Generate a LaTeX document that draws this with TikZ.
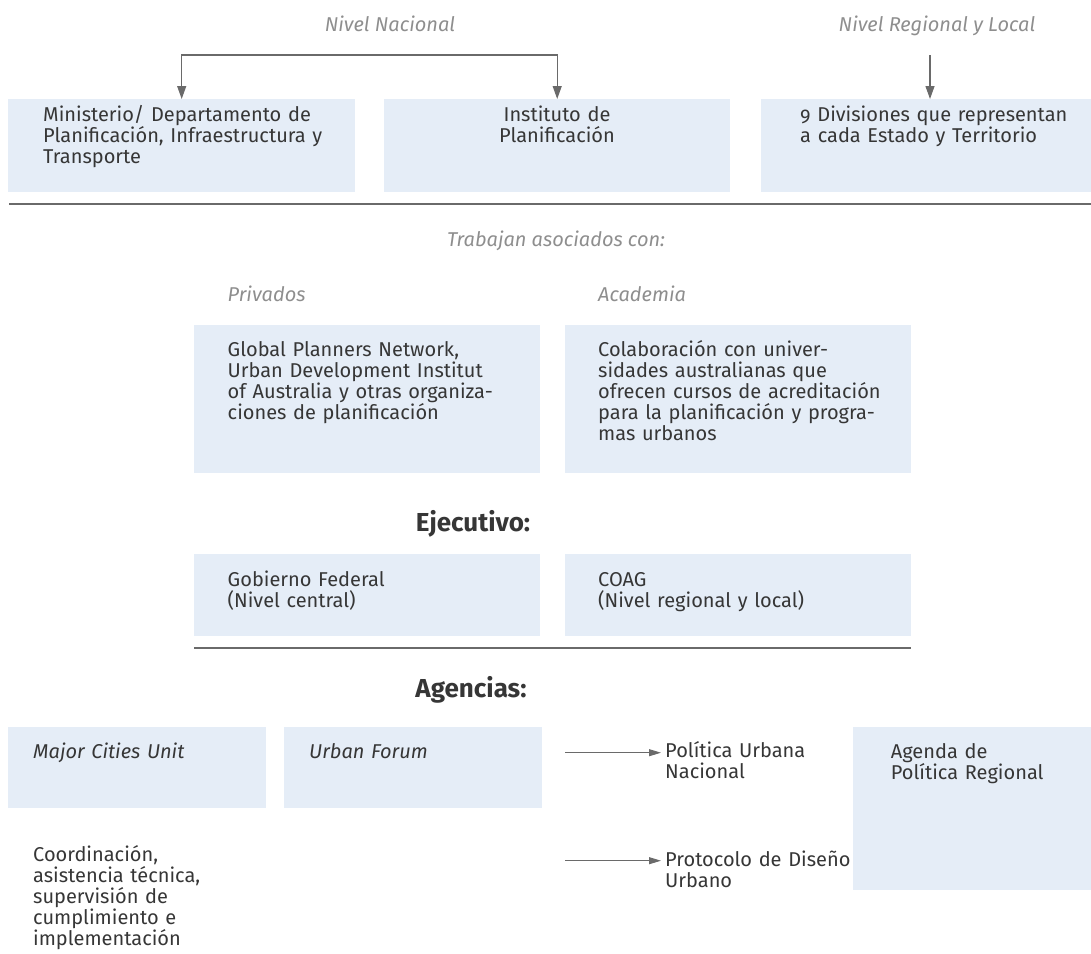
\documentclass[tikz,border=0pt]{standalone}
\usepackage{fontspec}
\setmainfont{Fira Sans}[Numbers=OldStyle]
\usetikzlibrary{arrows.meta,calc}
\definecolor{boxfill}{HTML}{E5EDF7}
\definecolor{txt}{HTML}{363636}
\definecolor{lbl}{HTML}{8E8E8E}
\definecolor{ln}{HTML}{6A6A6A}
\tikzset{
  box/.style={fill=boxfill, draw=none, anchor=north west, inner sep=0pt},
  btxt/.style={anchor=base west, text width=#1, align=left, inner sep=0pt,
    font=\fontsize{20}{21}\selectfont, text=txt},
  ctxt/.style={anchor=base, text width=#1, align=center, inner sep=0pt,
    font=\fontsize{20}{21}\selectfont, text=txt},
  lbltxt/.style={inner sep=0pt, font=\fontsize{20}{21}\selectfont\itshape, text=lbl},
  headtxt/.style={anchor=base, inner sep=0pt, font=\fontsize{26}{28}\selectfont\bfseries, text=txt},
  rule/.style={draw=ln, line width=1.3pt},
  arr/.style={draw=ln, line width=1.2pt, -{Triangle[length=13pt,width=9pt]}},
  sarr/.style={draw=ln, line width=1pt, -{Triangle[length=12pt,width=7pt]}},
}
\begin{document}
\begin{tikzpicture}[x=1pt,y=-1pt]
\useasboundingbox (0,0) rectangle (1091,953);

% top level
\node[lbltxt, anchor=base] (nnac) at (390,31.7) {Nivel Nacional};
\node[lbltxt, anchor=base] (nreg) at (937,31.7) {Nivel Regional y Local};

\node[box, minimum width=347pt, minimum height=93pt] (b1) at (8,99) {};
\node[box, minimum width=346pt, minimum height=93pt] (b2) at (384,99) {};
\node[box, minimum width=330pt, minimum height=93pt] (b3) at (761,99) {};

\node[btxt=310pt] (t1) at (43,121) {Ministerio/ Departamento de\\Planificación, Infraestructura y\\Transporte};
\node[ctxt=300pt] (t2) at (557,121) {Instituto de\\Planificación};
\node[btxt=290pt] (t3) at (800,121) {9 Divisiones que representan\\a cada Estado y Territorio};

\coordinate (nn) at (371,55);
\coordinate (nr) at (930,55);
\draw[arr] (nn) -| (b1.north);
\draw[arr] (nn) -| (b2.north);
\draw[arr] (nr) -- (nr |- b3.north);

\draw[rule] (9,204) -- (1091,204);

% partners
\node[lbltxt, anchor=base] (trab) at (556,246) {Trabajan asociados con:};
\node[lbltxt, anchor=base west] (priv) at (227.5,301.7) {Privados};
\node[lbltxt, anchor=base west] (acad) at (598,301.7) {Academia};

\node[box, minimum width=346pt, minimum height=148pt] (pv) at (194,325) {};
\node[box, minimum width=346pt, minimum height=148pt] (ac) at (565,325) {};
\node[btxt=310pt] (tpv) at (227.5,356.7) {Global Planners Network,\\Urban Development Institut\\of Australia y otras organiza-\\ciones de planificación};
\node[btxt=310pt] (tac) at (598,356.7) {Colaboración con univer-\\sidades australianas que\\ofrecen cursos de acreditación\\para la planificación y progra-\\mas urbanos};

% executive
\node[headtxt] (ejec) at (473,531) {Ejecutivo:};
\node[box, minimum width=346pt, minimum height=82pt] (gf) at (194,554) {};
\node[box, minimum width=346pt, minimum height=82pt] (co) at (565,554) {};
\node[btxt=300pt] (tgf) at (227.5,586.7) {Gobierno Federal\\(Nivel central)};
\node[btxt=300pt] (tco) at (598,586.7) {COAG\\(Nivel regional y local)};

\draw[rule] (194,648) -- (911,648);

% agencies
\node[headtxt] (agen) at (471,697) {Agencias:};
\node[box, minimum width=258pt, minimum height=81pt] (mc) at (8,727) {};
\node[box, minimum width=258pt, minimum height=81pt] (uf) at (284,727) {};
\node[box, minimum width=238pt, minimum height=163pt] (ag) at (853,727) {};

\node[btxt=230pt, font=\fontsize{20}{21}\selectfont\itshape] (tmc) at (33,758) {Major Cities Unit};
\node[btxt=230pt, font=\fontsize{20}{21}\selectfont\itshape] (tuf) at (309,758) {Urban Forum};
\node[btxt=230pt] (tcoord) at (33,861.7) {Coordinación,\\asistencia técnica,\\supervisión de\\cumplimiento e\\implementación};

\node[btxt=240pt] (pu) at (665,757.7) {Política Urbana\\Nacional};
\node[btxt=240pt] (pd) at (665,866.7) {Protocolo de Diseño\\Urbano};
\node[btxt=195pt] (tag) at (890.7,758) {Agenda de\\Política Regional};

\coordinate (a1) at (565,752.7);
\coordinate (a2) at (565,860.7);
\draw[sarr] (a1) -- ($(a1 -| pu.base west)+(-4,0)$);
\draw[sarr] (a2) -- ($(a2 -| pd.base west)+(-4,0)$);
\end{tikzpicture}
\end{document}
